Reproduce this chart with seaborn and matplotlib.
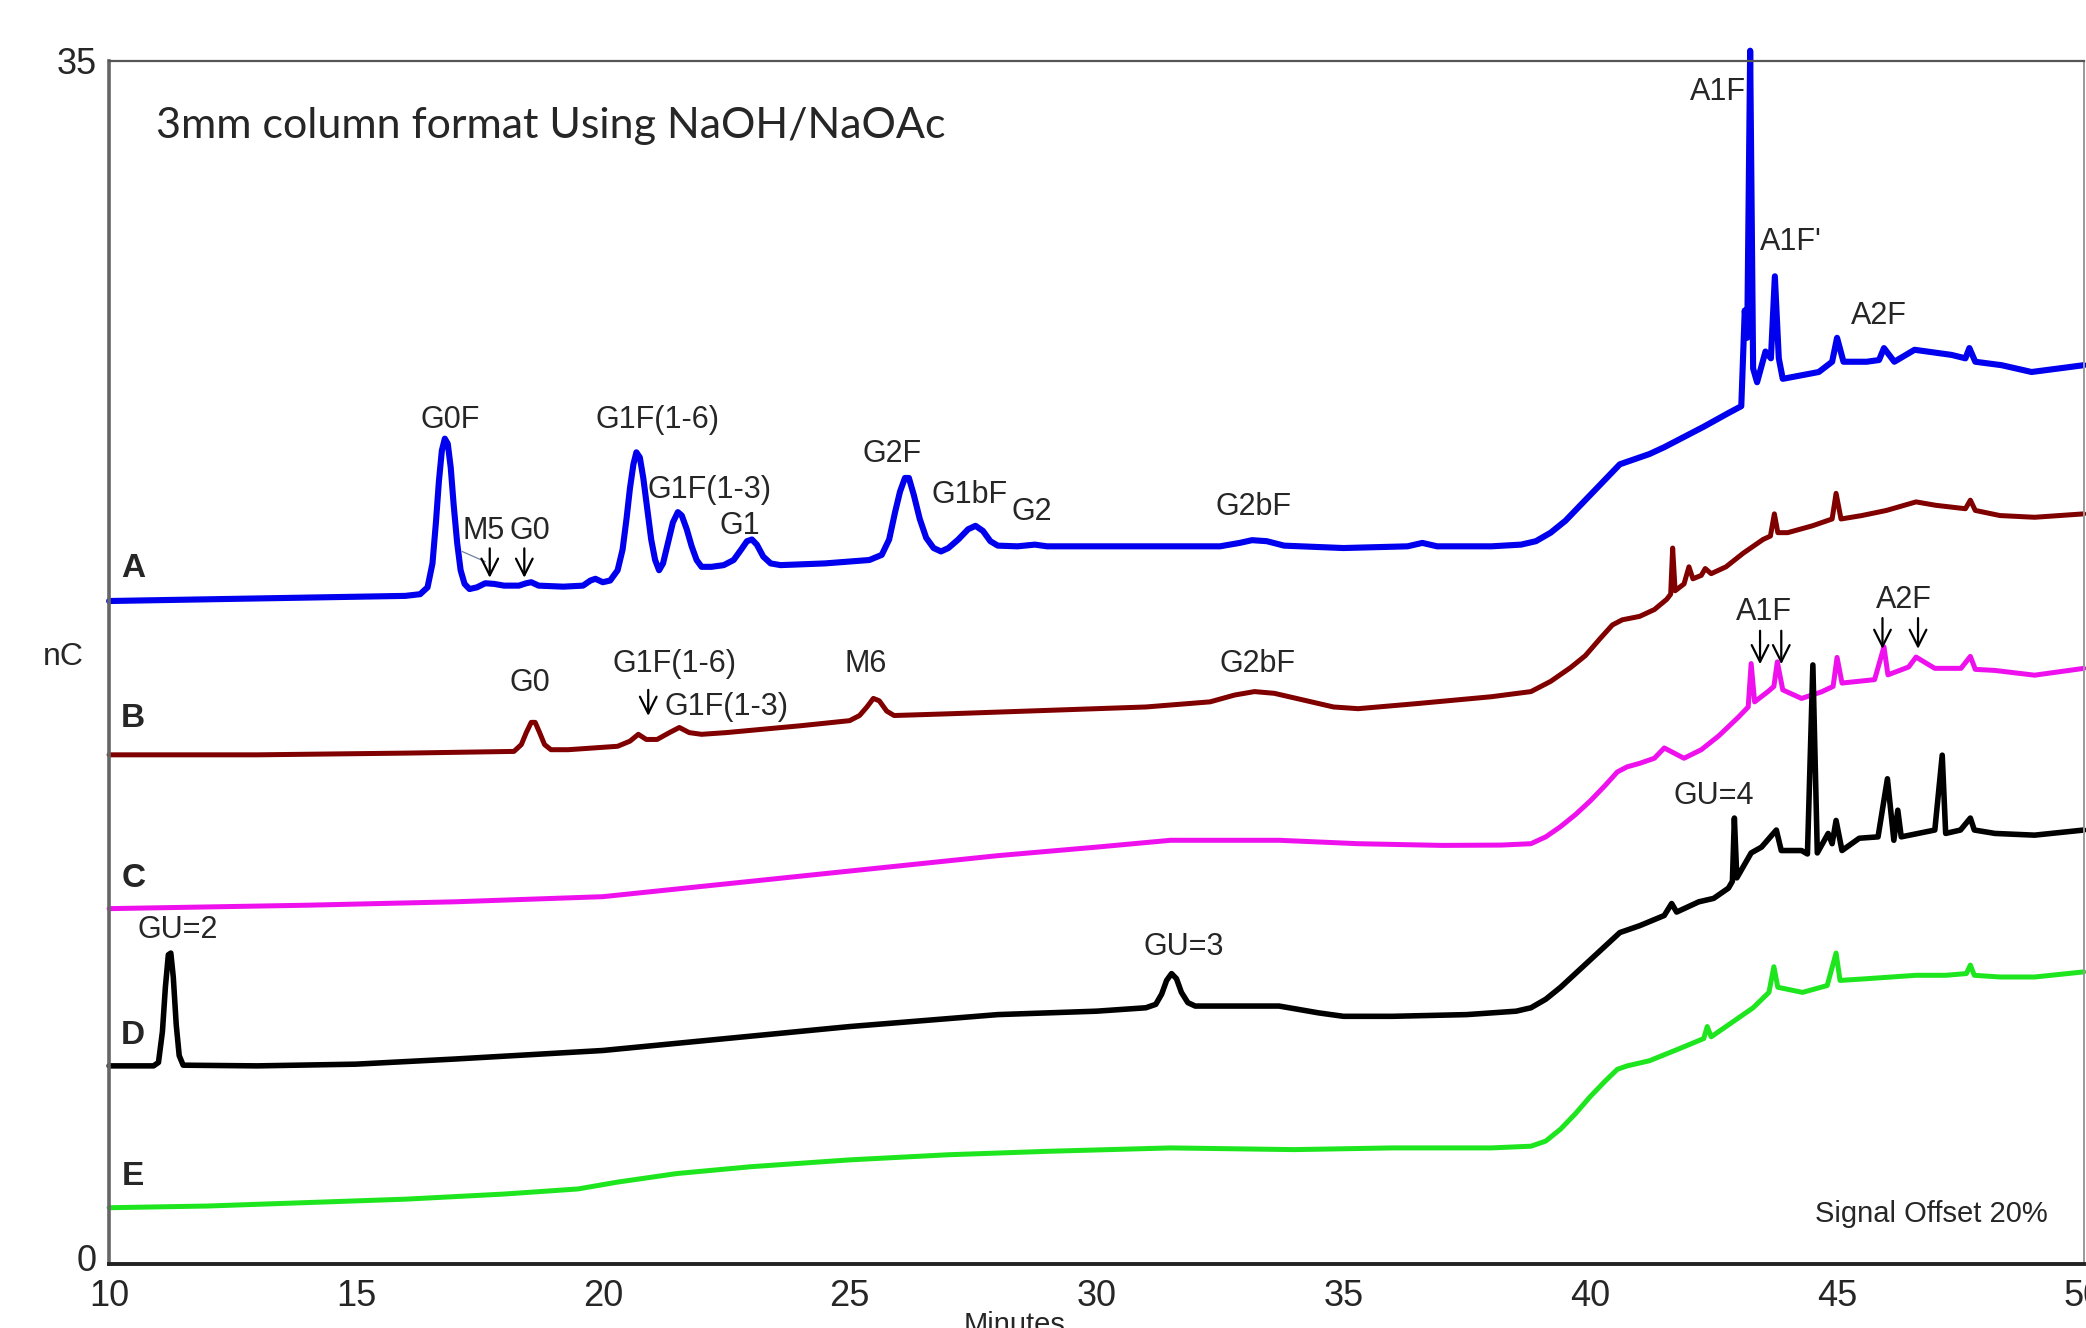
import matplotlib
matplotlib.use("Agg")
import matplotlib.pyplot as plt
import pandas as pd
import seaborn as sns
from matplotlib import font_manager

# (retention time in min, detector response in nC) for the five stacked traces
trace_a = [
    (10.0, 19.2), (12.0, 19.25), (14.0, 19.3), (16.0, 19.35), (16.3, 19.4), (16.45, 19.6), (16.55, 20.3),
    (16.62, 21.5), (16.68, 22.7), (16.74, 23.6), (16.8, 23.95), (16.86, 23.8), (16.92, 23.1), (16.98, 22.0),
    (17.05, 20.9), (17.12, 20.1), (17.2, 19.7), (17.3, 19.55), (17.45, 19.6), (17.62, 19.72), (17.8, 19.7),
    (18.0, 19.65), (18.3, 19.65), (18.45, 19.72), (18.55, 19.75), (18.7, 19.65), (19.2, 19.62), (19.6, 19.65),
    (19.75, 19.8), (19.85, 19.85), (20.0, 19.75), (20.15, 19.8), (20.3, 20.1), (20.4, 20.7), (20.48, 21.6),
    (20.55, 22.5), (20.62, 23.2), (20.68, 23.55), (20.75, 23.4), (20.82, 22.8), (20.9, 21.9), (20.98, 21.0),
    (21.06, 20.4), (21.14, 20.1), (21.22, 20.3), (21.32, 20.9), (21.42, 21.5), (21.52, 21.8), (21.6, 21.7),
    (21.7, 21.3), (21.8, 20.8), (21.9, 20.4), (22.0, 20.2), (22.2, 20.2), (22.45, 20.25), (22.65, 20.4),
    (22.8, 20.7), (22.92, 20.95), (23.02, 21.0), (23.12, 20.85), (23.25, 20.5), (23.4, 20.3), (23.6, 20.25),
    (24.5, 20.3), (25.4, 20.4), (25.65, 20.55), (25.8, 21.0), (25.92, 21.8), (26.02, 22.4), (26.12, 22.8),
    (26.2, 22.8), (26.3, 22.3), (26.42, 21.6), (26.55, 21.05), (26.7, 20.75), (26.85, 20.65), (27.0, 20.75),
    (27.2, 21.0), (27.4, 21.3), (27.55, 21.4), (27.7, 21.25), (27.85, 20.95), (28.0, 20.82), (28.4, 20.8),
    (28.75, 20.85), (29.0, 20.8), (30.5, 20.8), (32.5, 20.8), (32.9, 20.9), (33.15, 20.98), (33.45, 20.95),
    (33.8, 20.82), (35.0, 20.75), (36.3, 20.8), (36.6, 20.9), (36.9, 20.8), (38.0, 20.8), (38.6, 20.85),
    (38.9, 20.95), (39.2, 21.2), (39.5, 21.55), (39.8, 22.0), (40.1, 22.45), (40.4, 22.9), (40.6, 23.2),
    (40.8, 23.3), (41.2, 23.5), (41.5, 23.7), (42.3, 24.3), (42.8, 24.7), (43.06, 24.9), (43.13, 27.7),
    (43.18, 26.9), (43.24, 35.3), (43.3, 26.0), (43.38, 25.6), (43.55, 26.5), (43.66, 26.3), (43.74, 28.7),
    (43.82, 26.3), (43.9, 25.7), (44.63, 25.9), (44.9, 26.2), (45.0, 26.9), (45.13, 26.2), (45.6, 26.2),
    (45.85, 26.25), (45.95, 26.6), (46.16, 26.2), (46.57, 26.55), (47.32, 26.4), (47.6, 26.3), (47.68, 26.6),
    (47.8, 26.2), (48.33, 26.1), (48.94, 25.9), (50.0, 26.1),
]

trace_b = [
    (10.0, 14.7), (13.0, 14.7), (16.0, 14.75), (18.2, 14.8), (18.35, 15.0), (18.45, 15.35), (18.55, 15.65),
    (18.63, 15.65), (18.72, 15.35), (18.82, 15.0), (18.95, 14.85), (19.3, 14.85), (20.3, 14.95),
    (20.55, 15.1), (20.72, 15.3), (20.88, 15.15), (21.1, 15.15), (21.35, 15.35), (21.55, 15.5),
    (21.75, 15.35), (22.0, 15.3), (22.5, 15.35), (24.0, 15.55), (25.0, 15.7), (25.2, 15.85), (25.35, 16.1),
    (25.48, 16.35), (25.6, 16.28), (25.75, 15.98), (25.9, 15.85), (27.0, 15.9), (29.0, 16.0), (31.0, 16.1),
    (32.3, 16.25), (32.8, 16.45), (33.2, 16.55), (33.6, 16.5), (34.2, 16.3), (34.8, 16.1), (35.3, 16.05),
    (36.5, 16.2), (38.0, 16.4), (38.8, 16.55), (39.2, 16.85), (39.6, 17.25), (39.9, 17.6), (40.2, 18.1),
    (40.45, 18.5), (40.65, 18.65), (41.0, 18.75), (41.3, 18.95), (41.55, 19.25), (41.63, 19.4),
    (41.67, 20.75), (41.72, 19.5), (41.9, 19.7), (42.0, 20.2), (42.08, 19.85), (42.25, 19.95),
    (42.33, 20.15), (42.45, 20.0), (42.75, 20.2), (43.1, 20.6), (43.5, 21.0), (43.65, 21.1), (43.73, 21.75),
    (43.8, 21.2), (44.0, 21.2), (44.5, 21.4), (44.9, 21.6), (44.98, 22.35), (45.08, 21.6), (45.5, 21.7),
    (46.0, 21.85), (46.6, 22.1), (47.0, 22.0), (47.6, 21.9), (47.7, 22.15), (47.8, 21.85), (48.3, 21.7),
    (49.0, 21.65), (50.0, 21.75),
]

trace_c = [
    (10.0, 10.2), (14.0, 10.3), (17.0, 10.4), (19.0, 10.5), (20.0, 10.55), (21.0, 10.7), (22.0, 10.85),
    (25.0, 11.3), (28.0, 11.75), (30.0, 12.0), (31.5, 12.2), (33.7, 12.2), (35.3, 12.1), (37.0, 12.05),
    (38.2, 12.06), (38.8, 12.1), (39.1, 12.3), (39.4, 12.6), (39.7, 12.95), (40.0, 13.35), (40.3, 13.8),
    (40.55, 14.2), (40.75, 14.35), (41.0, 14.45), (41.3, 14.6), (41.5, 14.9), (41.9, 14.6), (42.25, 14.85),
    (42.6, 15.25), (43.0, 15.8), (43.2, 16.1), (43.26, 17.37), (43.33, 16.25), (43.6, 16.55), (43.72, 16.7),
    (43.79, 17.42), (43.9, 16.6), (44.28, 16.35), (44.68, 16.54), (44.92, 16.7), (45.0, 17.55), (45.1, 16.8),
    (45.76, 16.9), (45.95, 17.86), (46.03, 17.04), (46.45, 17.27), (46.6, 17.56), (46.98, 17.23),
    (47.51, 17.23), (47.7, 17.58), (47.8, 17.2), (48.19, 17.17), (49.0, 17.03), (50.0, 17.23),
]

trace_d = [
    (10.0, 5.6), (10.9, 5.6), (11.0, 5.7), (11.08, 6.6), (11.14, 7.9), (11.2, 8.85), (11.25, 8.9),
    (11.3, 8.2), (11.36, 6.8), (11.42, 5.9), (11.5, 5.62), (13.0, 5.6), (15.0, 5.65), (17.0, 5.8),
    (20.0, 6.05), (22.5, 6.4), (25.0, 6.75), (28.0, 7.1), (30.0, 7.2), (31.0, 7.3), (31.2, 7.4),
    (31.32, 7.7), (31.42, 8.1), (31.52, 8.3), (31.62, 8.15), (31.72, 7.75), (31.85, 7.45), (32.0, 7.35),
    (32.5, 7.35), (33.7, 7.35), (34.5, 7.15), (35.0, 7.05), (36.0, 7.05), (37.5, 7.1), (38.5, 7.2),
    (38.8, 7.3), (39.1, 7.55), (39.4, 7.9), (39.7, 8.3), (40.0, 8.7), (40.3, 9.1), (40.6, 9.5), (41.0, 9.7),
    (41.5, 10.0), (41.65, 10.35), (41.75, 10.1), (42.2, 10.4), (42.5, 10.5), (42.8, 10.8), (42.88, 11.0),
    (42.92, 12.85), (42.97, 11.1), (43.26, 11.83), (43.47, 12.0), (43.77, 12.5), (43.87, 11.9),
    (44.28, 11.9), (44.4, 11.8), (44.51, 17.33), (44.6, 11.83), (44.82, 12.4), (44.9, 12.1), (44.98, 12.78),
    (45.1, 11.9), (45.45, 12.26), (45.83, 12.3), (46.02, 14.0), (46.15, 12.2), (46.23, 13.08), (46.3, 12.3),
    (46.98, 12.5), (47.13, 14.69), (47.2, 12.4), (47.5, 12.5), (47.7, 12.85), (47.78, 12.5), (48.2, 12.4),
    (49.0, 12.35), (50.0, 12.5),
]

trace_e = [
    (10.0, 1.45), (12.0, 1.5), (14.0, 1.6), (16.0, 1.7), (18.0, 1.85), (19.5, 2.0), (20.3, 2.2),
    (21.5, 2.45), (23.0, 2.65), (25.0, 2.85), (27.0, 3.0), (29.0, 3.1), (31.5, 3.2), (34.0, 3.15),
    (36.0, 3.2), (38.0, 3.2), (38.8, 3.25), (39.1, 3.4), (39.4, 3.75), (39.7, 4.2), (40.0, 4.7),
    (40.3, 5.15), (40.55, 5.5), (40.75, 5.6), (41.2, 5.75), (41.8, 6.1), (42.3, 6.4), (42.37, 6.75),
    (42.45, 6.45), (42.8, 6.8), (43.3, 7.3), (43.62, 7.75), (43.72, 8.5), (43.8, 7.9), (44.3, 7.75),
    (44.8, 7.95), (44.98, 8.9), (45.06, 8.1), (45.6, 8.15), (46.6, 8.25), (47.2, 8.25), (47.62, 8.3),
    (47.7, 8.55), (47.78, 8.25), (48.3, 8.2), (49.0, 8.2), (50.0, 8.35),
]

trace_names = ["A", "B", "C", "D", "E"]
trace_colors = ["#0000ee", "#800000", "#ee11ee", "#000000", "#1ee61e"]
trace_widths = [4.4, 3.6, 3.6, 4.0, 3.6]
x_ticks = [10, 15, 20, 25, 30, 35, 40, 45, 50]
y_ticks = [0, 35]

sns.set_style("white")
installed = {f.name for f in font_manager.fontManager.ttflist}
narrow = "Liberation Sans Narrow" if "Liberation Sans Narrow" in installed else "Liberation Sans"
plt.rcParams["font.family"] = [narrow, "DejaVu Sans"]

fig = plt.figure(figsize=(20.86, 13.28), dpi=100)
ax = fig.add_axes([0.0523, 0.0481, 0.9467, 0.906])

for name, pts, col, lw in zip(trace_names, [trace_a, trace_b, trace_c, trace_d, trace_e],
                              trace_colors, trace_widths):
    df = pd.DataFrame(pts, columns=["time", "signal"])
    sns.lineplot(data=df, x="time", y="signal", color=col, linewidth=lw,
                 estimator=None, sort=False, ax=ax, solid_joinstyle="round",
                 solid_capstyle="round")
    ax.lines[-1].set_clip_on(False)

ax.set_xlim(10, 50)
ax.set_ylim(-0.2, 35)
ax.set_xticks(x_ticks)
ax.set_yticks(y_ticks)
ax.set_xlabel("")
ax.set_ylabel("")
ax.tick_params(axis="both", which="major", labelsize=26, length=6, width=1.2,
               color="#444444", direction="out", pad=5)
ax.tick_params(axis="y", length=5, pad=4)

ax.spines["left"].set_color("#666666")
ax.spines["left"].set_linewidth(2.6)
ax.spines["top"].set_color("#555555")
ax.spines["top"].set_linewidth(1.6)
ax.spines["right"].set_color("#999999")
ax.spines["right"].set_linewidth(1.4)
ax.spines["bottom"].set_color("#222222")
ax.spines["bottom"].set_linewidth(2.8)

# Trace letters
lab_kw = dict(fontsize=24, fontweight="bold", family="Liberation Sans", ha="center", va="center")
for name, yy in zip(trace_names, [20.15, 15.76, 11.09, 6.5, 2.37]):
    ax.text(10.49, yy, name, **lab_kw)

pk = dict(fontsize=22, ha="center", va="center", family=narrow)
# Trace A peak labels
ax.text(16.9, 24.5, "G0F", **pk)
ax.text(21.11, 24.5, "G1F(1-6)", **pk)
ax.text(22.16, 22.45, "G1F(1-3)", **pk)
ax.text(22.78, 21.4, "G1", **pk)
ax.text(25.86, 23.5, "G2F", **pk)
ax.text(27.42, 22.3, "G1bF", **pk)
ax.text(28.69, 21.8, "G2", **pk)
ax.text(33.17, 21.95, "G2bF", **pk)
ax.text(17.58, 21.25, "M5", **pk)
ax.text(18.52, 21.25, "G0", **pk)
ax.text(42.58, 34.1, "A1F", **pk)
ax.text(44.06, 29.7, "A1F'", **pk)
ax.text(45.84, 27.55, "A2F", **pk)
# Trace B peak labels
ax.text(18.52, 16.81, "G0", **pk)
ax.text(21.46, 17.35, "G1F(1-6)", **pk)
ax.text(22.51, 16.1, "G1F(1-3)", **pk)
ax.text(25.32, 17.35, "M6", **pk)
ax.text(33.27, 17.35, "G2bF", **pk)
# Trace C peak labels
ax.text(43.52, 18.87, "A1F", **pk)
ax.text(46.35, 19.22, "A2F", **pk)
# Trace D standards
ax.text(11.38, 9.57, "GU=2", **pk)
ax.text(31.76, 9.07, "GU=3", **pk)
ax.text(42.5, 13.5, "GU=4", **pk)

ax.text(46.92, 1.28, "Signal Offset 20%", fontsize=21, ha="center", va="center", family=narrow)

arrow_kw = dict(arrowstyle="->", color="black", lw=1.6, mutation_scale=30, shrinkA=0, shrinkB=0)
for x0, y_top, y_tip in [(17.71, 20.74, 19.88), (18.41, 20.74, 19.88),
                         (20.92, 16.6, 15.84),
                         (43.44, 18.33, 17.35), (43.87, 18.33, 17.35),
                         (45.92, 18.7, 17.8), (46.64, 18.7, 17.8)]:
    ax.annotate("", xy=(x0, y_tip), xytext=(x0, y_top), arrowprops=arrow_kw)
ax.plot([17.15, 17.62], [20.65, 20.35], color="#7080a0", lw=0.9)

fig.text(0.0747, 0.905, "3mm column format Using NaOH/NaOAc", fontsize=31,
         family=["Lato", "DejaVu Sans"], ha="left", va="center")
fig.text(0.0306, 0.505, "nC", fontsize=23, family="Liberation Sans", ha="center", va="center")
fig.text(0.4866, 0.013, "Minutes", fontsize=21, family=narrow, ha="center", va="top")

fig.savefig("out.png", dpi=100)
